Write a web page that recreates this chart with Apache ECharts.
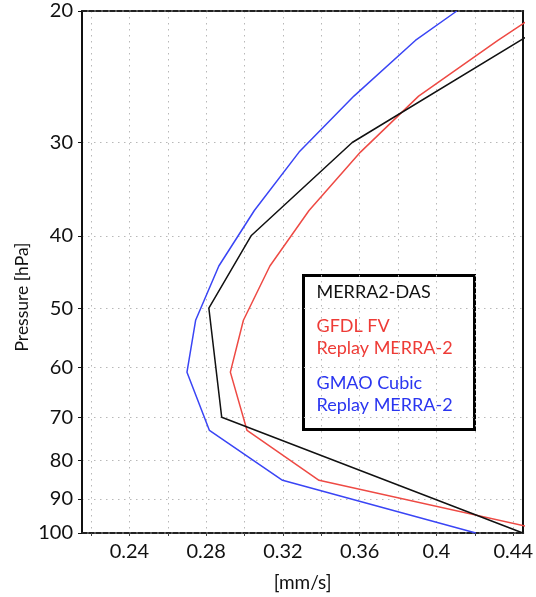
<!DOCTYPE html>
<html>
<head>
<meta charset="utf-8">
<script src="https://cdn.jsdelivr.net/npm/echarts@6/dist/echarts.min.js"></script>
<style>html,body{margin:0;padding:0;background:#fff}#c{width:536px;height:597px}</style>
</head>
<body>
<div id="c"></div>
<script>
// Pressure levels (hPa)
const modelLevels = [20, 21.9, 26, 30.9, 37, 43.9, 51.9, 60.9, 72.9, 85, 100];
const dasLevels = [20, 30, 40, 50, 70, 100];
// Series values (mm/s)
const gmaoCubic = [0.4106, 0.389, 0.357, 0.3284, 0.3051, 0.2866, 0.2745, 0.270, 0.2817, 0.3198, 0.4205];
const gfdlFV = [0.455, 0.432, 0.3907, 0.3604, 0.3336, 0.3132, 0.2994, 0.2926, 0.3013, 0.3388, 0.4623];
const merra2Das = [0.4689, 0.3561, 0.3034, 0.2814, 0.2881, 0.445];
// Ticks
const xGridValues = [0.22, 0.24, 0.26, 0.28, 0.30, 0.32, 0.34, 0.36, 0.38, 0.40, 0.42, 0.44];
const xLabelValues = [0.24, 0.28, 0.32, 0.36, 0.40, 0.44];
const yTickValues = [20, 30, 40, 50, 60, 70, 80, 90, 100];

const FONT = 'Lato';
const pairs = (ys, xs) => xs.map((x, i) => [x, ys[i]]);

const chart = echarts.init(document.getElementById('c'));
const dotted = { color: '#b8b8b8', width: 1, type: [1.5, 4.5] };
chart.setOption({
  animation: false,
  grid: { left: 82, right: 11, top: 11, bottom: 62 },
  xAxis: [{
    type: 'value', min: 0.2153, max: 0.4452, position: 'bottom',
    name: '[mm/s]', nameLocation: 'middle', nameGap: 40,
    nameTextStyle: { fontFamily: FONT, fontSize: 19, color: '#111' },
    axisLine: { lineStyle: { color: '#222', width: 2, type: [5, 2] } },
    axisTick: { show: true, length: 3, customValues: xGridValues, lineStyle: { color: '#444' } },
    axisLabel: { customValues: xLabelValues, margin: 9, fontFamily: FONT, fontSize: 20, color: '#111',
      formatter: v => String(Math.round(v * 100) / 100) },
    splitLine: { show: true, lineStyle: dotted }
  }, {
    type: 'value', min: 0.2153, max: 0.4452, position: 'top',
    axisLine: { lineStyle: { color: '#222', width: 2, type: [5, 2] } },
    axisTick: { show: false }, axisLabel: { show: false }, splitLine: { show: false }
  }],
  yAxis: [{
    type: 'log', logBase: 10, min: 20, max: 100, inverse: true, position: 'left',
    axisLine: { show: true, lineStyle: { color: '#111', width: 2 } },
    axisTick: { show: true, length: 4, customValues: yTickValues, lineStyle: { color: '#111' } },
    axisLabel: { customValues: yTickValues, margin: 9, fontFamily: FONT, fontSize: 20, color: '#111' },
    splitLine: { show: true, lineStyle: dotted }
  }, {
    type: 'log', logBase: 10, min: 20, max: 100, inverse: true, position: 'right',
    axisLine: { show: true, lineStyle: { color: '#111', width: 2 } },
    axisTick: { show: false }, axisLabel: { show: false }, splitLine: { show: false }
  }],
  series: [
    { name: 'GMAO Cubic Replay MERRA-2', type: 'line', data: pairs(modelLevels, gmaoCubic),
      showSymbol: false, clip: true, lineStyle: { color: '#3a45f5', width: 1.5 }, z: 3 },
    { name: 'GFDL FV Replay MERRA-2', type: 'line', data: pairs(modelLevels, gfdlFV),
      showSymbol: false, clip: true, lineStyle: { color: '#ee4a44', width: 1.5 }, z: 3 },
    { name: 'MERRA2-DAS', type: 'line', data: pairs(dasLevels, merra2Das),
      showSymbol: false, clip: true, lineStyle: { color: '#111111', width: 1.5 }, z: 4 }
  ],
  graphic: [{
    type: 'text', x: 22, y: 297, rotation: Math.PI / 2, z: 10,
    style: { text: 'Pressure [hPa]', fill: '#111', font: '17.5px ' + FONT, align: 'center', verticalAlign: 'middle' }
  }, {
    type: 'group', left: 302, top: 274, z: 10,
    children: [
      { type: 'rect', shape: { x: 0, y: 0, width: 171, height: 154 },
        style: { fill: '#fff', stroke: '#000', lineWidth: 3 } },
      { type: 'text', left: 13, top: 8, style: { text: 'MERRA2-DAS', fill: '#111', font: '18px ' + FONT } },
      { type: 'text', left: 13, top: 40, style: { text: 'GFDL FV\nReplay MERRA-2', fill: '#ee3b36', font: '18px ' + FONT, lineHeight: 22 } },
      { type: 'text', left: 13, top: 97, style: { text: 'GMAO Cubic\nReplay MERRA-2', fill: '#2a35f0', font: '18px ' + FONT, lineHeight: 22 } }
    ]
  }]
});
</script>
</body>
</html>
